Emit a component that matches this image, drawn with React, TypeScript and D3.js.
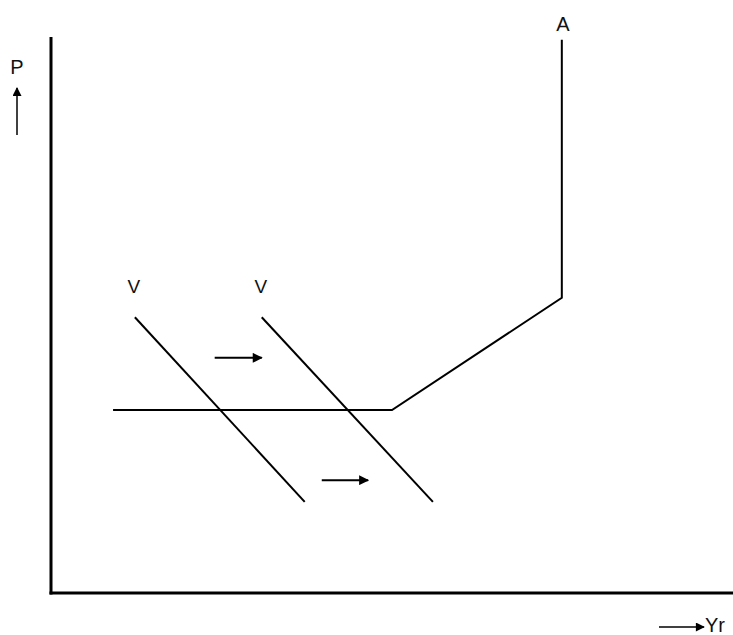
import React from 'react';
import * as d3 from 'd3';

// aggregate supply curve "A" (flat, rising, then vertical)
const supplyX = [9.1, 50, 74.9, 74.9];
const supplyY = [32.9, 32.9, 53.1, 99.5];

// two demand curves "V", shifted right
const demandLabels = ['V', 'V'];
const demandX0 = [12.3, 30.9];
const demandX1 = [37.2, 56.0];
const demandY0 = [49.6, 49.6];
const demandY1 = [16.4, 16.4];

// shift arrows
const shiftX0 = [24.0, 39.7];
const shiftX1 = [30.9, 46.5];
const shiftY = [42.3, 20.3];

const supplyLabel = 'A';
const yLabel = 'P';
const xLabel = 'Yr';

const W = 733;
const H = 635;
const font = '"Liberation Sans", Arial, sans-serif';

const App = () => {
  const x = d3.scaleLinear().domain([0, 100]).range([51, 733]);
  const y = d3.scaleLinear().domain([0, 100]).range([593, 37]);

  const line = d3.line<[number, number]>()
    .x(d => x(d[0]))
    .y(d => y(d[1]));

  const supplyPts = supplyX.map((v, i) => [v, supplyY[i]] as [number, number]);
  const top = supplyPts[supplyPts.length - 1];

  return (
    <div style={{ position: 'absolute', left: 0, top: 0, width: W, height: H, background: '#fff', overflow: 'hidden' }}>
      <svg width={W} height={H} style={{ display: 'block' }}>
        <defs>
          <marker id="head" viewBox="0 0 10 10" refX="9" refY="5"
            markerWidth="6" markerHeight="5" orient="auto" markerUnits="strokeWidth">
            <path d="M0,0 L10,5 L0,10 z" fill="#000" />
          </marker>
          <marker id="headThin" viewBox="0 0 10 10" refX="9" refY="5"
            markerWidth="8" markerHeight="6" orient="auto" markerUnits="strokeWidth">
            <path d="M0,0 L10,5 L0,10 z" fill="#000" />
          </marker>
        </defs>

        {/* axes */}
        <line x1={x(0)} x2={x(0)} y1={y(100)} y2={y(0) + 1.5} stroke="#000" strokeWidth={3} />
        <line x1={x(0) - 1.5} x2={W} y1={y(0)} y2={y(0)} stroke="#000" strokeWidth={3} />

        {/* supply curve */}
        <path d={line(supplyPts) || ''} fill="none" stroke="#000" strokeWidth={2} />
        <text x={x(top[0]) + 1} y={31} textAnchor="middle" fontFamily={font} fontSize={20} fill="#111">{supplyLabel}</text>

        {/* demand curves */}
        {demandLabels.map((lab, i) => (
          <g key={i}>
            <path d={line([[demandX0[i], demandY0[i]], [demandX1[i], demandY1[i]]]) || ''}
              fill="none" stroke="#000" strokeWidth={2} />
            <text x={x(demandX0[i]) - 1} y={y(demandY0[i]) - 24} textAnchor="middle"
              fontFamily={font} fontSize={19} fill="#111">{lab}</text>
          </g>
        ))}

        {/* shift arrows */}
        {shiftY.map((v, i) => (
          <line key={i} x1={x(shiftX0[i])} x2={x(shiftX1[i])} y1={y(v)} y2={y(v)}
            stroke="#000" strokeWidth={2} markerEnd="url(#head)" />
        ))}

        {/* axis labels */}
        <text x={17} y={74} textAnchor="middle" fontFamily={font} fontSize={20} fill="#111">{yLabel}</text>
        <line x1={17} x2={17} y1={135} y2={88} stroke="#000" strokeWidth={1.5} markerEnd="url(#headThin)" />
        <line x1={659} x2={704} y1={627} y2={627} stroke="#000" strokeWidth={1.5} markerEnd="url(#headThin)" />
        <text x={705} y={632} fontFamily={font} fontSize={20} fill="#111">{xLabel}</text>
      </svg>
    </div>
  );
};

export default App;
